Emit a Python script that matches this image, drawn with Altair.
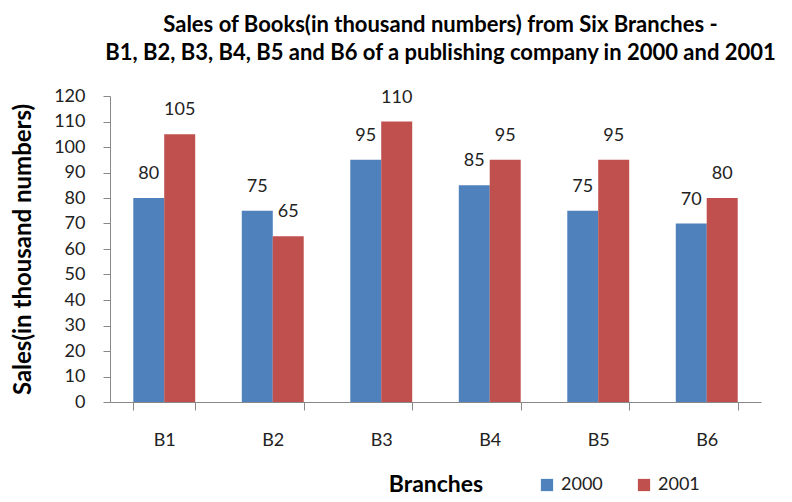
import altair as alt
import pandas as pd

branches = ["B1", "B2", "B3", "B4", "B5", "B6"]
sales_2000 = [80, 75, 95, 85, 75, 70]
sales_2001 = [105, 65, 110, 95, 95, 80]
years = ["2000", "2001"]
colors = ["#4F81BD", "#C0504D"]

rows = []
for b, v0, v1 in zip(branches, sales_2000, sales_2001):
    rows.append({"Branch": b, "Year": years[0], "Sales": v0})
    rows.append({"Branch": b, "Year": years[1], "Sales": v1})
df = pd.DataFrame(rows)

FONT = "Lato"

x = alt.X("Branch:N", sort=branches,
          scale=alt.Scale(paddingInner=0.43, paddingOuter=0.215),
          axis=alt.Axis(title="Branches", labelAngle=0, tickBand="extent",
                        labelPadding=21, tickSize=8, titlePadding=24,
                        titleFontSize=23, titleFontWeight="bold",
                        labelFontSize=18, labelColor="#222222",
                        titleColor="#000000"))
y = alt.Y("Sales:Q", scale=alt.Scale(domain=[0, 120], nice=False),
          axis=alt.Axis(title="Sales(in thousand numbers)",
                        values=list(range(0, 121, 10)),
                        labelOverlap=False, grid=False,
                        tickSize=7, labelPadding=18, labelFontSize=18,
                        labelColor="#222222", titleFontSize=24,
                        titleFontWeight="bold", titleColor="#000000",
                        titlePadding=18))
color = alt.Color("Year:N", scale=alt.Scale(domain=years, range=colors),
                  legend=alt.Legend(title=None, orient="none", direction="horizontal",
                                    legendX=428, legendY=380, symbolType="square",
                                    symbolSize=150, symbolStrokeWidth=0,
                                    labelFontSize=18, labelColor="#222222",
                                    labelOffset=5, columnPadding=32))

base = alt.Chart(df).encode(
    x=x, y=y, xOffset=alt.XOffset("Year:N", sort=years))
bars = base.mark_bar(width=31).encode(color=color)
labels = base.mark_text(dy=-24, fontSize=18, color="#222222", font=FONT).encode(
    text="Sales:Q")

chart = alt.layer(bars, labels).properties(
    width=651, height=306,
    title=alt.Title(["Sales of Books(in thousand numbers) from Six Branches -",
                     "B1, B2, B3, B4, B5 and B6 of a publishing company in 2000 and 2001"],
                    fontSize=22, fontWeight="bold", font=FONT, color="#000000",
                    anchor="middle", offset=22, lineHeight=28, dx=5),
    autosize=alt.AutoSizeParams(type="none"),
    padding={"left": 102, "top": 88, "right": 23, "bottom": 94},
).configure_view(stroke=None).configure_axis(
    domainColor="#888888", tickColor="#888888", labelFont=FONT, titleFont=FONT
).configure_legend(labelFont=FONT)

chart.save("out.html", embed_options={"renderer": "svg", "actions": False})
